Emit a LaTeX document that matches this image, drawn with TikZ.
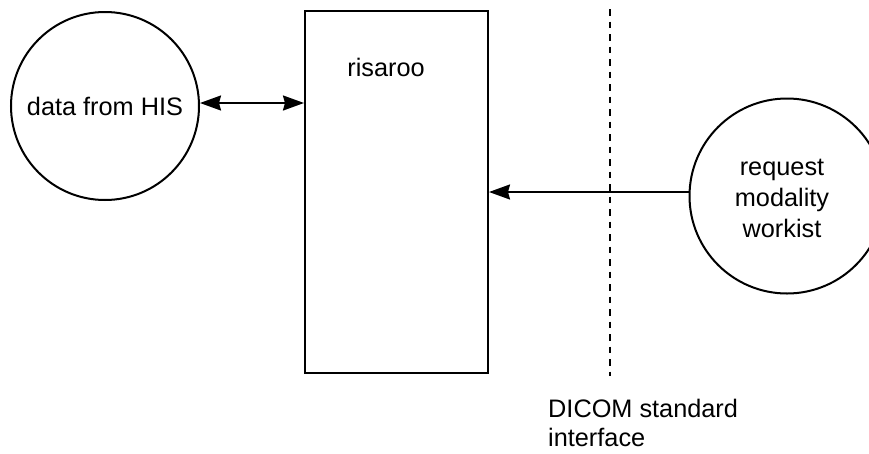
\documentclass[tikz,border=0pt]{standalone}
\usepackage{fontspec}
\setmainfont{Liberation Sans}
\usetikzlibrary{arrows.meta}
\begin{document}
\begin{tikzpicture}[x=1pt,y=-1pt,
  every node/.style={font=\fontsize{25.3}{31}\selectfont},
  ln/.style={line width=2pt},
  hd/.tip={Stealth[length=21pt,width=15pt,inset=2pt]},
  circ/.style={draw,ln,circle,inner sep=0pt,align=center},
  boxn/.style={draw,ln,minimum width=183pt,minimum height=362pt,inner sep=0pt}]
\useasboundingbox (0,0) rectangle (869,453);
\node[circ,minimum size=188pt] (his) at (105,106) {data from HIS};
\node[boxn] (ris) at (396.5,191.5) {};
\node at (386,67) {risaroo};
\node[circ,minimum size=195pt] (mwl) at (787,196) {};
\node[align=center] at (782,198) {request\\modality\\workist};
\coordinate (dtop) at (610,9);
\coordinate (dbot) at (610,376);
\draw[line width=2.2pt,dash pattern=on 6.5pt off 6pt] (dtop) -- (dbot);
\draw[ln,hd-hd] (his.east |- 0,103) -- (ris.west |- 0,103);
\draw[ln,-hd] (mwl.west |- 0,192) -- (ris.east |- 0,192);
\node[align=left,anchor=north west,inner sep=0pt,font=\fontsize{25.3}{29}\selectfont] (dic) at (548,399) {DICOM standard\\interface};
\end{tikzpicture}
\end{document}
